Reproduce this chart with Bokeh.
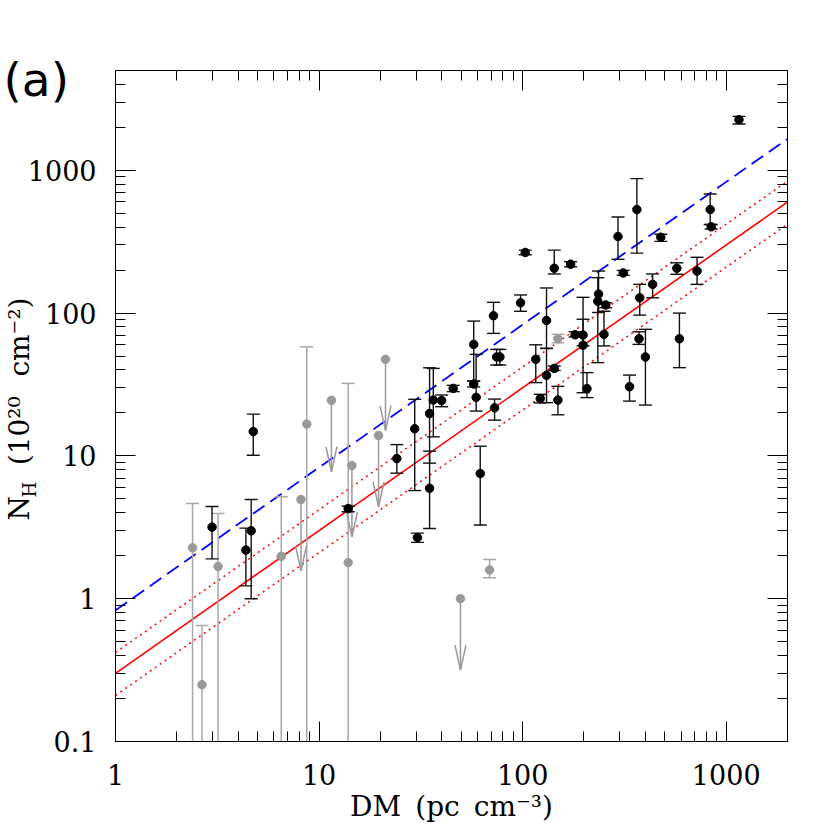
import numpy as np
from bokeh.plotting import figure
from bokeh.models import (ColumnDataSource, LogAxis, FixedTicker, Range1d, Title,
                          CustomJSTickFormatter)
from bokeh.embed import file_html
from bokeh.resources import INLINE

# ---------------- data ----------------
# black points: DM, N_H, upper end of error bar, lower end of error bar
bk_dm = [2.98, 4.37, 4.64, 4.75, 13.9, 24.1, 29.5, 30.4, 34.9, 34.9, 36.4, 40.0,
         45.6, 57.5, 57.5, 59.1, 61.9, 71.9, 72.8, 74.5, 77.3, 97.7, 103, 116,
         122, 131, 131, 143, 143, 149, 172, 181, 198, 198, 207, 236, 234, 256,
         251, 294, 312, 364, 376, 373, 401, 335, 435, 477, 572, 589, 719, 834,
         844, 1155]
bk_nh = [3.17, 2.19, 2.99, 14.8, 4.28, 9.58, 15.5, 2.68, 19.8, 5.94, 24.6, 24.4,
         29.7, 60.4, 31.9, 25.7, 7.52, 95.8, 21.7, 49.3, 49.3, 118, 266, 47.5,
         25.2, 88.9, 36.7, 206, 41.0, 24.6, 220, 70.5, 70.2, 59.5, 29.6, 136, 121, 114,
         71.0, 344, 191, 531, 128, 66.1, 49.3, 30.5, 159, 340, 206, 66.1, 197, 531,
         402, 2263]
bk_hi = [4.42, 3.12, 4.95, 19.6, 4.45, 12.0, 24.9, 2.88, 41.4, 10.8, 41.0, 26.7,
         31.2, 87.9, 33.5, 51.4, 11.7, 119, 25.0, 55.7, 55.7, 134, 276, 60.0,
         27.0, 150, 56.6, 276, 42.6, 30.7, 229, 74.0, 129, 90.6, 38.3, 197, 177, 118,
         103, 471, 199, 875, 159, 74.0, 77.0, 36.8, 188, 357, 225, 100, 246, 683,
         417, 2387]
bk_lo = [1.90, 1.23, 1.00, 10.1, 4.06, 7.57, 5.72, 2.48, 8.9, 3.10, 13.6, 22.1,
         28.2, 33.4, 30.4, 20.6, 3.28, 72.1, 17.8, 43.3, 43.3, 103, 256, 32.6,
         23.5, 56.6, 23.6, 188, 39.6, 19.4, 211, 68.0, 59.0, 27.7, 25.6, 101, 45.0, 109,
         58.9, 238, 184, 263, 96.8, 60.4, 22.7, 24.2, 128, 318, 187, 41.5, 159, 417,
         388, 2109]

# grey points with error bars (lower end None = runs off the bottom of the plot)
gr_dm = [2.39, 2.66, 3.19, 6.52, 8.7, 13.9, 68.8, 149]
gr_nh = [2.27, 0.25, 1.68, 1.98, 16.7, 1.79, 1.59, 66.1]
gr_hi = [4.64, 0.65, 3.95, 5.17, 58.0, 32.2, 1.88, 71.0]
gr_lo = [None, None, None, None, None, None, 1.40, 62.0]

# grey upper limits
ul_dm = [8.15, 11.5, 14.5, 19.6, 21.2, 49.5]
ul_nh = [4.95, 24.5, 8.56, 13.9, 47.5, 1.0]

# linear relations N_H = k * DM
fit_k = 0.30
fit_k_up = 0.42
fit_k_dn = 0.21
blue_k = 0.83
fit_dm = [1.0, 2000.0]

x_ticks = [1, 10, 100, 1000]
x_tick_labels = ["1", "10", "100", "1000"]
y_ticks = [0.1, 1, 10, 100, 1000]
y_tick_labels = ["0.1", "1", "10", "100", "1000"]

# ---------------- figure ----------------
X0, X1 = 1.0, 2000.0
Y0, Y1 = 0.1, 5000.0
FL, FT, FW, FH = 115, 70, 672, 671   # frame position on the canvas (px)

p = figure(x_axis_type="log", y_axis_type="log",
           x_range=Range1d(X0, X1), y_range=Range1d(Y0, Y1),
           frame_width=FW, frame_height=FH,
           min_border_left=FL, min_border_top=FT,
           min_border_right=26, min_border_bottom=86,
           output_backend="svg", toolbar_location=None)
p.grid.visible = False
p.outline_line_color = "black"
p.outline_line_width = 1
p.background_fill_color = "white"
p.border_fill_color = "white"

SERIF = "DejaVu Serif"


def minor_list(lo, hi):
    out = []
    for k in range(-2, 5):
        for m in range(2, 10):
            v = m * 10.0 ** k
            if lo < v < hi:
                out.append(v)
    return out


def label_formatter(vals, labs):
    return CustomJSTickFormatter(args=dict(vals=vals, labs=labs), code="""
        for (let i = 0; i < vals.length; i++) {
            if (Math.abs(vals[i] - tick) <= 1e-9 * Math.max(1, Math.abs(vals[i]))) return labs[i];
        }
        return '';
    """)


def style_axis(ax, ticks, labels, lo, hi, show):
    ax.ticker = FixedTicker(ticks=ticks, minor_ticks=minor_list(lo, hi))
    ax.major_tick_in = 20
    ax.major_tick_out = 0
    ax.minor_tick_in = 10
    ax.minor_tick_out = 0
    ax.axis_line_color = "black"
    ax.major_tick_line_color = "black"
    ax.minor_tick_line_color = "black"
    ax.axis_line_width = 1
    ax.major_tick_line_width = 1
    ax.minor_tick_line_width = 1
    if show:
        ax.formatter = label_formatter(ticks, labels)
        ax.major_label_text_font = SERIF
        ax.major_label_text_font_size = "27px"
        ax.major_label_text_color = "black"
    else:
        ax.formatter = label_formatter(ticks, ["" for _ in labels])
        ax.major_label_text_font_size = "1px"
        ax.major_label_standoff = 0


style_axis(p.xaxis[0], x_ticks, x_tick_labels, X0, X1, True)
style_axis(p.yaxis[0], y_ticks, y_tick_labels, Y0, Y1, True)
p.xaxis[0].major_label_standoff = 22
p.yaxis[0].major_label_standoff = 19

# x-axis title
p.xaxis[0].axis_label = "DM\u2002(pc\u2002cm\u207b\u00b3)"
p.xaxis[0].axis_label_text_font = SERIF
p.xaxis[0].axis_label_text_font_size = "28px"
p.xaxis[0].axis_label_text_font_style = "normal"
p.xaxis[0].axis_label_text_color = "black"
p.xaxis[0].axis_label_standoff = 2

top_ax = LogAxis()
style_axis(top_ax, x_ticks, x_tick_labels, X0, X1, False)
p.add_layout(top_ax, "above")
right_ax = LogAxis()
style_axis(right_ax, y_ticks, y_tick_labels, Y0, Y1, False)
p.add_layout(right_ax, "right")

# y-axis title: "N (10^20 cm^-2)" with a subscript "H" (side titles, rotated);
# the leading empty lines of the subscript only give its box room to sit near the axis
t_main = Title(text="N\u2003\u200a(10\u00b2\u2070\u2002\u2009cm\u207b\u00b2)", align="left",
               offset=FT + FH - 520, vertical_align="bottom", standoff=-22,
               text_font=SERIF, text_font_size="28px", text_font_style="normal",
               text_color="black")
p.add_layout(t_main, "left")
t_sub = Title(text="\n\nH", align="left", offset=FT + FH - 497, vertical_align="bottom",
              standoff=-56, text_font=SERIF, text_font_size="18px",
              text_font_style="normal", text_color="black")
p.add_layout(t_sub, "left")

# panel tag "(a)"
t_tag = Title(text="\n(a)", align="left", offset=3 - FL, vertical_align="bottom",
              standoff=-72, text_font="DejaVu Sans", text_font_size="47px",
              text_font_style="normal", text_color="black")
p.add_layout(t_tag, "above")

# ---------------- relations ----------------
fx = np.array(fit_dm)
p.line(fx, blue_k * fx, line_color="#0000ff", line_width=1.8, line_dash="14 7")
p.line(fx, fit_k_up * fx, line_color="#ff0000", line_width=1.5, line_dash="2 4")
p.line(fx, fit_k_dn * fx, line_color="#ff0000", line_width=1.5, line_dash="2 4")
p.line(fx, fit_k * fx, line_color="#ff0000", line_width=1.6)

# ---------------- grey points ----------------
GREY_BAR = "#a8a8a8"
GREY_DOT = "#999999"
gr_lo_draw = [v if v is not None else Y0 / 100.0 for v in gr_lo]
gsrc = ColumnDataSource(dict(x=gr_dm, y=gr_nh, hi=gr_hi, lo=gr_lo_draw))
p.segment(x0="x", y0="lo", x1="x", y1="hi", source=gsrc, line_color=GREY_BAR, line_width=1.5)
p.scatter(x=gr_dm, y=gr_hi, marker="dash", size=13, line_color=GREY_BAR, line_width=1.5)
cap_x = [x for x, v in zip(gr_dm, gr_lo) if v is not None]
cap_y = [v for v in gr_lo if v is not None]
p.scatter(x=cap_x, y=cap_y, marker="dash", size=13, line_color=GREY_BAR, line_width=1.5)

# upper-limit arrows: shaft of half a decade, narrow open head
ARROW_DEC = 0.5
HEAD_LEN_DEC = 25.0 / (FH / np.log10(Y1 / Y0))
HEAD_W_DEC = 5.5 / (FW / np.log10(X1 / X0))
ux = np.array(ul_dm)
uy = np.array(ul_nh)
tip = uy * 10 ** (-ARROW_DEC)
p.segment(x0=ux, y0=uy, x1=ux, y1=tip, line_color=GREY_DOT, line_width=1.5)
p.segment(x0=ux * 10 ** (-HEAD_W_DEC), y0=tip * 10 ** HEAD_LEN_DEC, x1=ux, y1=tip,
          line_color=GREY_DOT, line_width=1.5)
p.segment(x0=ux * 10 ** (HEAD_W_DEC), y0=tip * 10 ** HEAD_LEN_DEC, x1=ux, y1=tip,
          line_color=GREY_DOT, line_width=1.5)
p.scatter(x=ul_dm, y=ul_nh, marker="circle", size=8.5, fill_color=GREY_DOT, line_color=GREY_DOT)
p.scatter(x=gr_dm, y=gr_nh, marker="circle", size=8.5, fill_color=GREY_DOT, line_color=GREY_DOT)

# ---------------- black points ----------------
bsrc = ColumnDataSource(dict(x=bk_dm, y=bk_nh, hi=bk_hi, lo=bk_lo))
p.segment(x0="x", y0="lo", x1="x", y1="hi", source=bsrc, line_color="#111111", line_width=1.4)
p.scatter(x="x", y="hi", source=bsrc, marker="dash", size=13, line_color="#111111", line_width=1.4)
p.scatter(x="x", y="lo", source=bsrc, marker="dash", size=13, line_color="#111111", line_width=1.4)
p.scatter(x="x", y="y", source=bsrc, marker="circle", size=8.5, fill_color="black", line_color="black")

open("out.html", "w").write(file_html(p, INLINE))
